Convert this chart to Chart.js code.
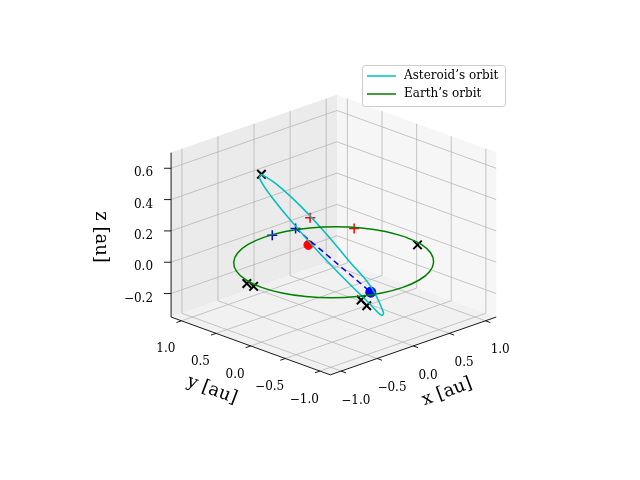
<!DOCTYPE html>
<html><head><meta charset="utf-8">
<script src="https://cdn.jsdelivr.net/npm/chart.js@4"></script>
<style>html,body{margin:0;padding:0;background:#fff}#w{width:640px;height:480px}</style>
</head><body><div id="w"><canvas id="c"></canvas></div>
<script>
// ---- data (3D, in au) ----
const asteroidX = [-0.627,-0.535,-0.386,-0.245,-0.103,0.023,0.081,0.065,-0.012,-0.156,-0.312,-0.461,-0.582,-0.647,-0.627];
const asteroidY = [0.389,0.273,0.076,-0.128,-0.332,-0.511,-0.635,-0.623,-0.519,-0.317,-0.1,0.111,0.294,0.397,0.389];
const asteroidZ = [0.6,0.542,0.408,0.251,0.076,-0.076,-0.232,-0.25,-0.174,-0.029,0.134,0.309,0.466,0.577,0.6];
const earthX = [1,0.966,0.866,0.707,0.5,0.259,0,-0.259,-0.5,-0.707,-0.866,-0.966,-1,-0.966,-0.866,-0.707,-0.5,-0.259,0,0.259,0.5,0.707,0.866,0.966,1];
const earthY = [0,0.259,0.5,0.707,0.866,0.966,1,0.966,0.866,0.707,0.5,0.259,0,-0.259,-0.5,-0.707,-0.866,-0.966,-1,-0.966,-0.866,-0.707,-0.5,-0.259,0];
const sunPos = [0.159,0.53,0];
const earthPos = [-0.32,-0.87,0];
const bluePlusX = [0.093,0.39], bluePlusY = [0.984,0.956], bluePlusZ = [0,0];
const redPlusX = [0.7,0.804], redPlusY = [1.07,0.542], redPlusZ = [0,0];
const blackX_X = [-0.627,0.932,-1.028,-1.036,-0.541,-0.613];
const blackX_Y = [0.389,-0.24,0.182,0.076,-0.96,-1.117];
const blackX_Z = [0.6,0,0,0,0,0];
const dashFrom = [0.39,0.956,0], dashTo = [-0.32,-0.87,0];
const xTicks = [-1.0,-0.5,0.0,0.5,1.0], yTicks = [-1.0,-0.5,0.0,0.5,1.0], zTicks = [-0.2,0.0,0.2,0.4,0.6];
const xLim=[-1.15,1.15], yLim=[-1.15,1.15], zLim=[-0.35,0.7];

// ---- projection (view) ----
function P(x,y,z){return {x:334+74*x-71*y, y:263-26*x-26*y-162*z};}
function pts(X,Y,Z){return X.map((v,i)=>P(v,Y[i],Z?Z[i]:0));}
function fmt(v){return (v<0?'\u2212':'')+Math.abs(v).toFixed(1);}

const axes3d = {
  id:'axes3d',
  beforeDatasetsDraw(chart){
    const c=chart.ctx, sx=chart.scales.x, sy=chart.scales.y;
    const Q=(x,y,z)=>{const p=P(x,y,z);return [sx.getPixelForValue(p.x),sy.getPixelForValue(p.y)];};
    const poly=(ps,fill)=>{c.beginPath();ps.forEach((p,i)=>{const q=Q(...p);i?c.lineTo(q[0],q[1]):c.moveTo(q[0],q[1]);});c.closePath();c.fillStyle=fill;c.fill();};
    const line=(a,b,col,w)=>{const p=Q(...a),q=Q(...b);c.beginPath();c.moveTo(p[0],p[1]);c.lineTo(q[0],q[1]);c.strokeStyle=col;c.lineWidth=w;c.stroke();};
    const [x0,x1]=xLim,[y0,y1]=yLim,[z0,z1]=zLim;
    c.save();
    poly([[x0,y1,z0],[x1,y1,z0],[x1,y1,z1],[x0,y1,z1]],'#ebebeb');
    poly([[x1,y0,z0],[x1,y1,z0],[x1,y1,z1],[x1,y0,z1]],'#f6f6f6');
    poly([[x0,y0,z0],[x1,y0,z0],[x1,y1,z0],[x0,y1,z0]],'#f1f1f1');
    const g='#b8b8b8';
    xTicks.forEach(t=>{line([t,y0,z0],[t,y1,z0],g,0.8);line([t,y1,z0],[t,y1,z1],g,0.8);});
    yTicks.forEach(t=>{line([x0,t,z0],[x1,t,z0],g,0.8);line([x1,t,z0],[x1,t,z1],g,0.8);});
    zTicks.forEach(t=>{line([x0,y1,t],[x1,y1,t],g,0.8);line([x1,y1,t],[x1,y0,t],g,0.8);});
    line([x0,y0,z0],[x1,y0,z0],'#000',0.9);
    line([x0,y0,z0],[x0,y1,z0],'#000',0.9);
    line([x0,y1,z0],[x0,y1,z1],'#000',0.9);
    c.font='12px "DejaVu Serif", serif';c.fillStyle='#000';c.textAlign='center';c.textBaseline='middle';
    xTicks.forEach(t=>{line([t,y0,z0],[t,y0-0.07,z0],'#000',0.9);const q=Q(t,y0-0.3,z0);c.fillText(fmt(t),q[0]-6,q[1]+22);});
    yTicks.forEach(t=>{line([x0,t,z0],[x0-0.07,t,z0],'#000',0.9);const q=Q(x0-0.3,t,z0);c.fillText(fmt(t),q[0]+6,q[1]+21);});
    zTicks.forEach(t=>{line([x0,y1,t],[x0-0.05,y1+0.05,t],'#000',0.9);const q=Q(x0,y1,t);c.textAlign='right';c.fillText(fmt(t),q[0]-18,q[1]+5);c.textAlign='center';});
    c.font='18px "DejaVu Serif", serif';
    c.save();c.translate(447,392);c.rotate(-0.36);c.fillText('x [au]',0,0);c.restore();
    c.save();c.translate(212,390);c.rotate(0.36);c.fillText('y [au]',0,0);c.restore();
    c.save();c.translate(101,237);c.rotate(Math.PI/2);c.fillText('z [au]',0,0);c.restore();
    c.restore();
  },
  afterDraw(chart){
    const c=chart.ctx;c.save();
    c.fillStyle='rgba(255,255,255,0.85)';c.strokeStyle='#cccccc';c.lineWidth=1;
    c.beginPath();c.roundRect(362.5,65.5,143,41,3);c.fill();c.stroke();
    c.font='12px "DejaVu Serif", serif';c.textBaseline='middle';c.fillStyle='#000';
    c.lineWidth=1.5;
    c.strokeStyle='#00bfbf';c.beginPath();c.moveTo(367,76);c.lineTo(396,76);c.stroke();
    c.strokeStyle='#008000';c.beginPath();c.moveTo(367,94);c.lineTo(396,94);c.stroke();
    c.fillText('Asteroid\u2019s orbit',404,76);c.fillText('Earth\u2019s orbit',404,94);
    c.restore();
  }
};

new Chart(document.getElementById('c'),{
  type:'scatter',
  data:{datasets:[
    {data:pts(earthX,earthY),showLine:true,borderColor:'#008000',borderWidth:1.5,pointRadius:0,tension:0.4},
    {data:pts(asteroidX,asteroidY,asteroidZ),showLine:true,borderColor:'#00bfbf',borderWidth:1.5,pointRadius:0,tension:0.4},
    {data:[P(...dashFrom),P(...dashTo)],showLine:true,borderColor:'#0000ff',borderWidth:1.5,borderDash:[6,4],pointRadius:0},
    {data:[P(...sunPos)],pointRadius:4.5,backgroundColor:'#ff0000',borderColor:'#ff0000'},
    {data:[P(...earthPos)],pointRadius:5,backgroundColor:'#0000ff',borderColor:'#0000ff'},
    {data:pts(bluePlusX,bluePlusY,bluePlusZ),pointStyle:'cross',pointRadius:5,borderWidth:1.5,borderColor:'#0000ff'},
    {data:pts(redPlusX,redPlusY,redPlusZ),pointStyle:'cross',pointRadius:5,borderWidth:1.5,borderColor:'#ff0000'},
    {data:pts(blackX_X,blackX_Y,blackX_Z),pointStyle:'crossRot',pointRadius:6,borderWidth:2,borderColor:'#000'}
  ]},
  options:{responsive:true,maintainAspectRatio:false,animation:false,
    layout:{padding:0},
    plugins:{legend:{display:false},tooltip:{enabled:false}},
    scales:{x:{type:'linear',min:0,max:640,display:false},y:{type:'linear',min:0,max:480,reverse:true,display:false}}},
  plugins:[axes3d]
});
</script></body></html>
